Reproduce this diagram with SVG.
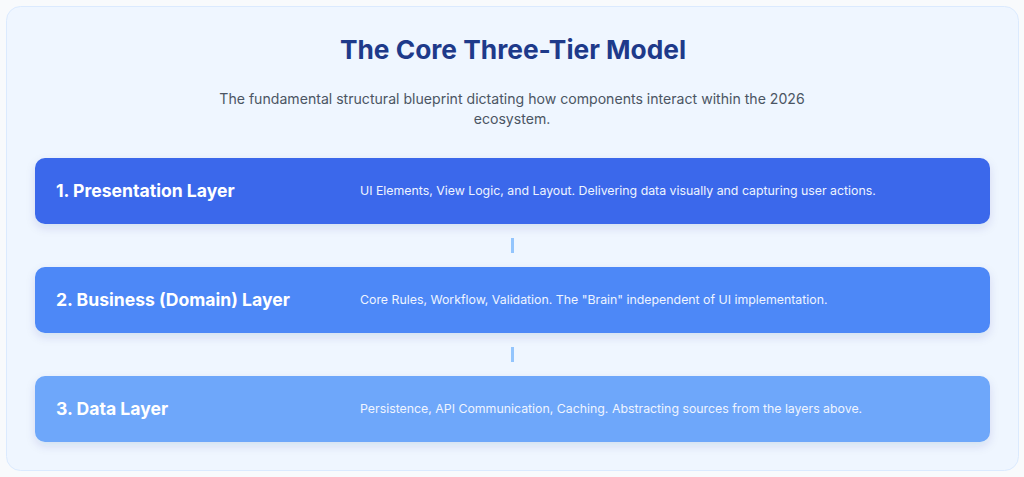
<svg xmlns="http://www.w3.org/2000/svg" width="1024" height="477" viewBox="0 0 1024 477">
<defs>
<style>
.ttl{font-family:Inter,"Liberation Sans",sans-serif;font-weight:700;fill:#1e3a8a;text-anchor:middle}
.sub{font-family:Inter,"Liberation Sans",sans-serif;font-size:14.1px;fill:#4b5563;text-anchor:middle}
.lt{font-family:Inter,"Liberation Sans",sans-serif;font-weight:700;font-size:17.6px;fill:#ffffff}
.ld{font-family:Inter,"Liberation Sans",sans-serif;font-size:12.33px;fill:#eef4ff}
.conn{fill:#93c5fd}
</style>
<filter id="sh" x="-5%" y="-30%" width="110%" height="170%">
<feDropShadow dx="0" dy="4" stdDeviation="5" flood-color="#1e3a8a" flood-opacity="0.12"/>
</filter>
</defs>
<rect width="1024" height="477" fill="#f8fafc"/>
<rect x="6.5" y="6.5" width="1012" height="464" rx="14" fill="#eff6ff" stroke="#dbeafe"/>
<text class="ttl" x="513" y="59" font-size="26.3">The Core Three-Tier Model</text>
<text class="sub" x="512" y="104">The fundamental structural blueprint dictating how components interact within the 2026</text>
<text class="sub" x="512" y="124">ecosystem.</text>
<g id="connectors">
<rect class="conn" x="511" y="238" width="3" height="15"/>
<rect class="conn" x="511" y="347" width="3" height="15"/>
</g>
<g id="presentation">
<rect x="35" y="158" width="955" height="66" rx="10" fill="#3b68eb" filter="url(#sh)"/>
<text class="lt" x="56" y="197">1. Presentation Layer</text>
<text class="ld" x="360" y="195">UI Elements, View Logic, and Layout. Delivering data visually and capturing user actions.</text>
</g>
<g id="business">
<rect x="35" y="267" width="955" height="66" rx="10" fill="#4d88f7" filter="url(#sh)"/>
<text class="lt" x="56" y="306">2. Business (Domain) Layer</text>
<text class="ld" x="360" y="304">Core Rules, Workflow, Validation. The "Brain" independent of UI implementation.</text>
</g>
<g id="data">
<rect x="35" y="376" width="955" height="66" rx="10" fill="#6ea7fa" filter="url(#sh)"/>
<text class="lt" x="56" y="415">3. Data Layer</text>
<text class="ld" x="360" y="413">Persistence, API Communication, Caching. Abstracting sources from the layers above.</text>
</g>
</svg>
